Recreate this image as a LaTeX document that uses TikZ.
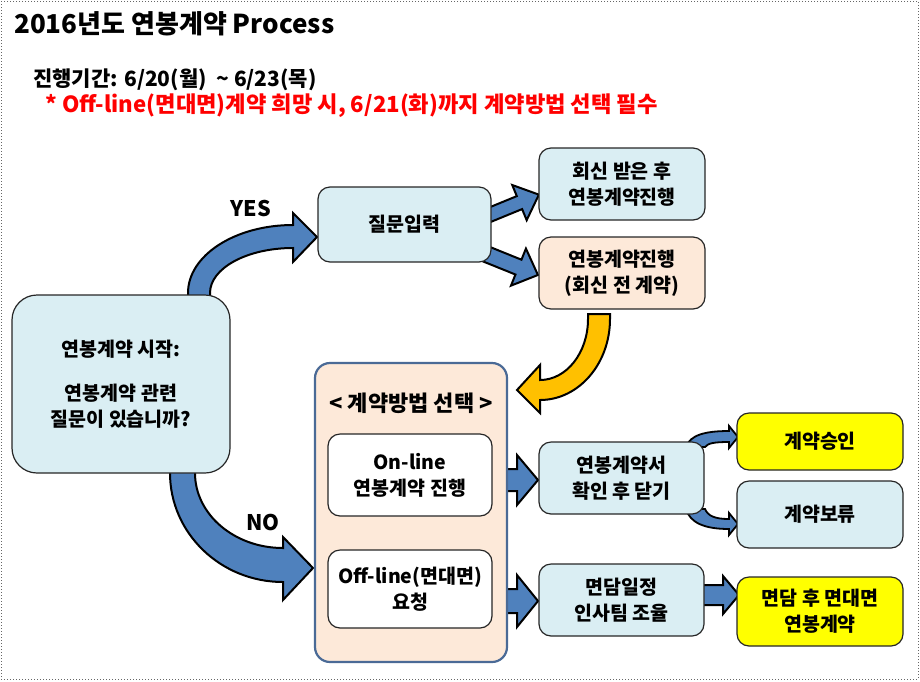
\documentclass[tikz,border=0pt]{standalone}
\usepackage{fontspec}
\setmainfont{Noto Sans CJK KR}
\definecolor{lblue}{HTML}{DAEEF3}
\definecolor{peach}{HTML}{FDE9D9}
\definecolor{ablue}{HTML}{4F81BD}
\definecolor{aorange}{HTML}{FFC000}
\definecolor{cborder}{HTML}{4A6A96}
\definecolor{yel}{HTML}{FFFF00}
\newcommand\fs[2]{\fontsize{#1}{#2}\selectfont\bfseries}
% horizontal block arrow: x0, y, xtip, shaft half, head half, head length, style
\newcommand\harrow[7]{\draw[#7] (#1,#2-#4) -- (#3-#6,#2-#4) -- (#3-#6,#2-#5) -- (#3,#2) -- (#3-#6,#2+#5) -- (#3-#6,#2+#4) -- (#1,#2+#4) -- cycle;}
\begin{document}
\begin{tikzpicture}[x=1pt,y=-1pt,
  box/.style={draw=black!85, line width=1.2pt, rounded corners=12pt, align=center, font=\fs{19.5}{26}, inner sep=0pt},
  barrow/.style={draw=black, line width=2pt, fill=ablue, line join=miter},
  yarrow/.style={draw=black, line width=2pt, fill=aorange, line join=miter},
  lbl/.style={font=\fs{21.5}{24}}]
\useasboundingbox (0,0) rectangle (920,681);
\draw[black!60, dotted, line width=1pt] (1,1) rectangle (918,679);

% texts at top
\node[anchor=west, font=\fs{26}{30}, inner sep=0pt] (title) at (14,24) {2016년도 연봉계약 Process};
\node[anchor=west, font=\fs{21}{25}, inner sep=0pt] (period) at (33,80) {진행기간: 6/20(월)\ \ {\char"007E} 6/23(목)};
\node[anchor=west, font=\fs{22.2}{25}, text=red, inner sep=0pt] (note) at (45,106) {* Off-line(면대면)계약 희망 시, 6/21(화)까지 계약방법 선택 필수};

% curved arrows (behind boxes)
% YES
\draw[barrow] (188,300) -- (188,293) .. controls (188,255.4) and (235,225) .. (293,225)
  -- (293,213) -- (317,237) -- (293,262) -- (293,248)
  .. controls (247.2,248) and (210,268.1) .. (210,293) -- (210,300) -- cycle;
% NO
\draw[barrow] (170,468) -- (170,473) .. controls (170,533.2) and (220.6,582) .. (283,582)
  -- (283,600) -- (313,568) -- (283,537) -- (283,548)
  .. controls (234.4,548) and (195,514.4) .. (195,473) -- (195,468) -- cycle;
% yellow
\draw[yarrow] (610,314) -- (610,319) .. controls (610,363.7) and (578.7,400) .. (540,400)
  -- (540,413) -- (517,390) -- (540,365) -- (540,380)
  .. controls (566.5,380) and (588,352.7) .. (588,319) -- (588,314) -- cycle;
% small curved arrows
\draw[barrow, line width=1.8pt] (686,447) .. controls (690,435) and (705,431) .. (729,431)
  -- (729,426) -- (738,437) -- (729,448) -- (729,442)
  .. controls (715,442) and (708,443) .. (705,447) -- cycle;
\draw[barrow, line width=1.8pt] (686,509) .. controls (690,523) and (705,529) .. (729,529)
  -- (729,535) -- (738,524) -- (729,513) -- (729,519)
  .. controls (715,519) and (708,516) .. (705,509) -- cycle;

% diagonal arrows from question box
\begin{scope}[shift={(488,215.5)}, rotate=22.3]
  \harrow{0}{0}{55}{7}{19}{21}{barrow}
\end{scope}
\begin{scope}[shift={(486,254)}, rotate=-22]
  \harrow{0}{0}{56}{8}{20}{21}{barrow}
\end{scope}
% horizontal arrows
\harrow{488}{480}{538}{11}{25}{21}{barrow}
\harrow{488}{601}{538}{12}{26}{21}{barrow}
\harrow{700}{595}{739}{10}{19}{16}{barrow}

% boxes
\node[box, fill=lblue, rounded corners=25pt, minimum width=218pt, minimum height=178pt] (start) at (121,384)
  {연봉계약 시작:\\[18pt]연봉계약 관련\\질문이 있습니까?};
\node[box, fill=lblue, minimum width=173pt, minimum height=75pt] (q) at (404.5,224.5) {질문입력};
\node[box, fill=lblue, minimum width=166pt, minimum height=72pt] (after) at (622,184) {회신 받은 후\\연봉계약진행};
\node[box, fill=peach, minimum width=166pt, minimum height=72pt] (before) at (622,273) {연봉계약진행\\(회신 전 계약)};

\node[draw=cborder, line width=2.2pt, fill=peach, rounded corners=15pt, minimum width=192pt, minimum height=299pt, inner sep=0pt] (sel) at (411,512.5) {};
\node[font=\fs{22}{25}, inner sep=0pt] (selt) at (411,403) {< 계약방법 선택 >};
\node[box, fill=white, minimum width=164pt, minimum height=82pt] (on) at (410,475) {On-line\\연봉계약 진행};
\node[box, fill=white, minimum width=164pt, minimum height=78pt] (off) at (410,589) {Off-line(면대면)\\요청};

\node[box, fill=lblue, minimum width=165pt, minimum height=72pt] (close) at (621.5,478) {연봉계약서\\확인 후 닫기};
\node[box, fill=lblue, minimum width=165pt, minimum height=72pt] (sched) at (621.5,600) {면담일정\\인사팀 조율};
\node[box, fill=yel, minimum width=166pt, minimum height=57pt] (ok) at (820,441.5) {계약승인};
\node[box, fill=lblue, minimum width=166pt, minimum height=67pt] (hold) at (820,514.5) {계약보류};
\node[box, fill=yel, minimum width=166pt, minimum height=69pt] (meet) at (820,611.5) {면담 후 면대면\\연봉계약};

% labels
\node[lbl] (yes) at (251,208) {YES};
\node[lbl] (no) at (263,522) {NO};
\end{tikzpicture}
\end{document}
